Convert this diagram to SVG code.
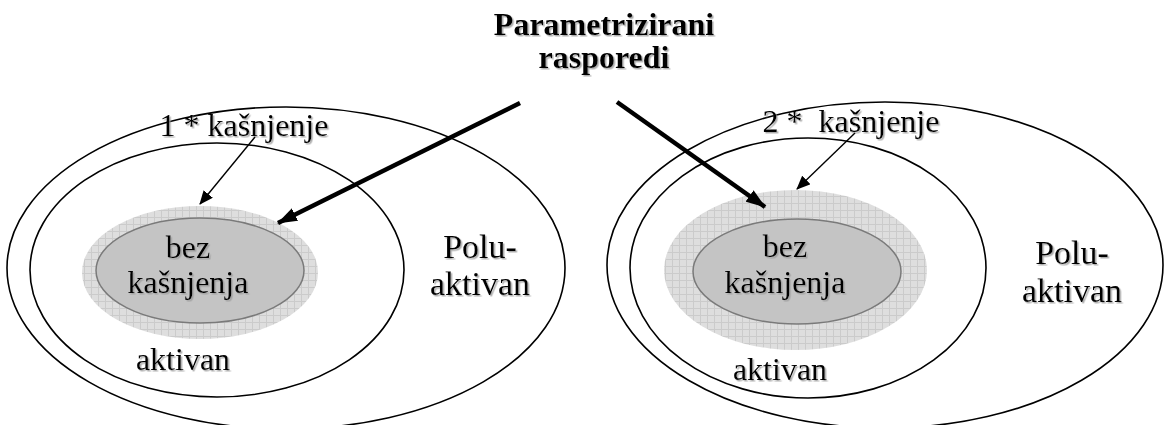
<svg xmlns="http://www.w3.org/2000/svg" width="1166" height="425" viewBox="0 0 1166 425">
<style>
.ring{fill:none;stroke:#000;stroke-width:1.6}
.halo{fill:url(#grid)}
.core{fill:#c4c4c4;stroke:#7a7a7a;stroke-width:1.5}
.t{font-family:"Liberation Serif","Times New Roman",serif;font-size:32px;fill:#000;text-anchor:middle;filter:url(#sh)}
.big{font-size:34px}
.b{font-weight:bold}
.thin{stroke:#000;stroke-width:1.4;fill:none}
.thick{stroke:#000;stroke-width:4.5;fill:none}
</style>
<defs>
<pattern id="grid" width="7" height="7" patternUnits="userSpaceOnUse">
<rect width="7" height="7" fill="#dedede"/>
<path d="M0 0.5H7M0.5 0V7" stroke="#cbcbcb" stroke-width="1"/>
</pattern>
<filter id="sh" x="-10%" y="-20%" width="120%" height="140%">
<feDropShadow dx="1.5" dy="1.5" stdDeviation="0.6" flood-color="#999" flood-opacity="0.8"/>
</filter>
<marker id="ah" markerWidth="14" markerHeight="12" refX="13" refY="6" orient="auto" markerUnits="userSpaceOnUse" viewBox="0 0 14 12">
<path d="M0 0L14 6L0 12z" fill="#000"/>
</marker>
<marker id="ahs" markerWidth="20" markerHeight="14" refX="19" refY="7" orient="auto" markerUnits="userSpaceOnUse" viewBox="0 0 20 14">
<path d="M0 0L20 7L0 14z" fill="#000"/>
</marker>
</defs>
<rect width="1166" height="425" fill="#fff"/>
<g id="title">
<text class="t b" x="604" y="35">Parametrizirani</text>
<text class="t b" x="604" y="68">rasporedi</text>
</g>
<g id="left-poluaktivan">
<ellipse class="ring" cx="286" cy="268" rx="279" ry="161"/>
<text class="t big" x="480" y="258">Polu-</text>
<text class="t big" x="480" y="295">aktivan</text>
</g>
<g id="left-aktivan">
<ellipse class="ring" cx="217" cy="270" rx="187" ry="127"/>
<text class="t" x="183" y="370">aktivan</text>
</g>
<g id="left-kasnjenje">
<ellipse class="halo" cx="200" cy="272.5" rx="118" ry="66.5"/>
<text class="t" x="244" y="136">1 * kašnjenje</text>
</g>
<g id="left-bez">
<ellipse class="core" cx="200" cy="270.5" rx="104" ry="52.5"/>
<text class="t" x="188" y="258">bez</text>
<text class="t" x="188" y="293">kašnjenja</text>
</g>
<g id="right-poluaktivan">
<ellipse class="ring" cx="885" cy="265" rx="278" ry="163"/>
<text class="t big" x="1072" y="264">Polu-</text>
<text class="t big" x="1072" y="302">aktivan</text>
</g>
<g id="right-aktivan">
<ellipse class="ring" cx="808" cy="268" rx="178" ry="130"/>
<text class="t" x="780" y="380">aktivan</text>
</g>
<g id="right-kasnjenje">
<ellipse class="halo" cx="795.5" cy="270" rx="131.5" ry="80"/>
<text class="t" x="851" y="132" xml:space="preserve">2 *  kašnjenje</text>
</g>
<g id="right-bez">
<ellipse class="core" cx="797" cy="271.5" rx="104" ry="52.5"/>
<text class="t" x="785" y="257">bez</text>
<text class="t" x="785" y="293">kašnjenja</text>
</g>
<g id="connectors">
<line class="thin" x1="255" y1="137" x2="200" y2="204" marker-end="url(#ah)"/>
<line class="thin" x1="855" y1="133" x2="797" y2="189" marker-end="url(#ah)"/>
<line class="thick" x1="520" y1="103" x2="278" y2="223" marker-end="url(#ahs)"/>
<line class="thick" x1="617" y1="102" x2="765" y2="207" marker-end="url(#ahs)"/>
</g>
</svg>
